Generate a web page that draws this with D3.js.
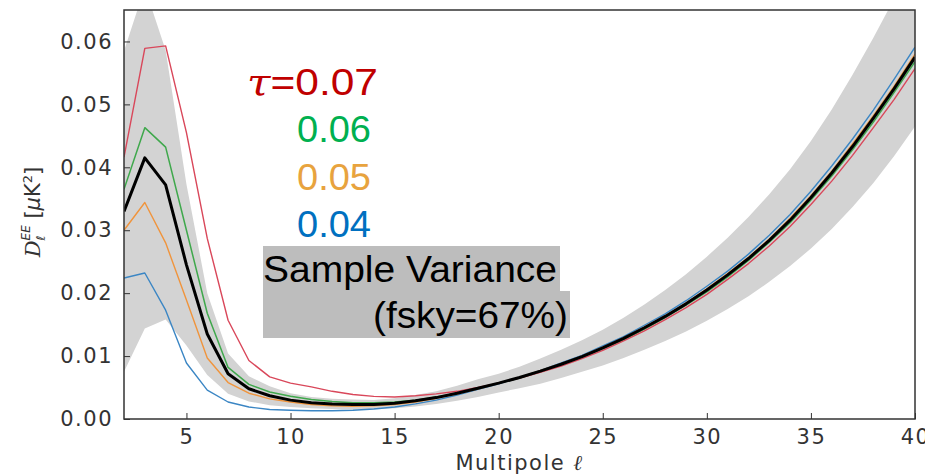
<!DOCTYPE html>
<html>
<head>
<meta charset="utf-8">
<script src="https://cdn.jsdelivr.net/npm/d3@7"></script>
<style>
  body { margin: 0; background: #fff; }
  svg { display: block; }
</style>
</head>
<body>
<div id="chart"></div>
<script>
// Multipoles sampled by the curves
const ells = [2, 3, 4, 5, 6, 7, 8, 9, 10, 11, 12, 13, 14, 15, 16, 17, 18, 19, 20,
  21, 22, 23, 24, 25, 26, 27, 28, 29, 30, 31, 32, 33, 34, 35, 36, 37, 38, 39, 40]

// D_l^EE [uK^2] for each tau
const tau07 = [0.0416, 0.0589, 0.0593, 0.0455, 0.0287, 0.0157, 0.0093, 0.0067, 0.0057, 0.0051,
  0.0044, 0.0039, 0.0036, 0.0035, 0.0037, 0.0040, 0.0044, 0.0050, 0.0057,
  0.0065, 0.0074, 0.0084, 0.0096, 0.0109, 0.0124, 0.0140, 0.0158, 0.0177, 0.0198,
  0.0222, 0.0247, 0.0275, 0.0306, 0.0341, 0.0378, 0.0419, 0.0463, 0.0508, 0.0557]
const tau06 = [0.0365, 0.0463, 0.0432, 0.0300, 0.0168, 0.0082, 0.0055, 0.0043, 0.0036, 0.0031,
  0.0028, 0.0026, 0.0026, 0.0027, 0.0030, 0.0035, 0.0041, 0.0049, 0.0057,
  0.0065, 0.0075, 0.0086, 0.0098, 0.0112, 0.0126, 0.0143, 0.0161, 0.0181, 0.0202,
  0.0226, 0.0252, 0.0281, 0.0312, 0.0348, 0.0386, 0.0428, 0.0472, 0.0519, 0.0568]
const tau05 = [0.0300, 0.0344, 0.0280, 0.0189, 0.0097, 0.0058, 0.0041, 0.0032, 0.0027, 0.0023,
  0.0021, 0.0020, 0.0021, 0.0023, 0.0027, 0.0033, 0.0040, 0.0048, 0.0057,
  0.0066, 0.0077, 0.0088, 0.0100, 0.0114, 0.0129, 0.0146, 0.0164, 0.0184, 0.0207,
  0.0231, 0.0257, 0.0286, 0.0319, 0.0355, 0.0394, 0.0437, 0.0482, 0.0529, 0.0580]
const tau04 = [0.0224, 0.0232, 0.0173, 0.0089, 0.0046, 0.0027, 0.0019, 0.0015, 0.0014, 0.0013,
  0.0013, 0.0014, 0.0016, 0.0019, 0.0024, 0.0030, 0.0038, 0.0047, 0.0056,
  0.0066, 0.0077, 0.0089, 0.0101, 0.0116, 0.0131, 0.0149, 0.0167, 0.0188, 0.0211,
  0.0235, 0.0262, 0.0292, 0.0325, 0.0362, 0.0402, 0.0445, 0.0491, 0.0540, 0.0591]
const fiducial = [0.0330, 0.0415, 0.0372, 0.0245, 0.0135, 0.0072, 0.0048, 0.0037, 0.0030, 0.0026,
  0.0024, 0.0023, 0.0023, 0.0025, 0.0029, 0.0034, 0.0041, 0.0049, 0.0057,
  0.0066, 0.0076, 0.0087, 0.0099, 0.0113, 0.0128, 0.0145, 0.0163, 0.0183, 0.0205,
  0.0229, 0.0255, 0.0284, 0.0316, 0.0352, 0.0391, 0.0433, 0.0478, 0.0525, 0.0575]

// Sample variance band (fsky = 67%)
const bandUpper = [0.0585, 0.0686, 0.0586, 0.0373, 0.0200, 0.0104, 0.0068, 0.0052, 0.0041, 0.0035,
  0.0032, 0.0031, 0.0030, 0.0033, 0.0038, 0.0044, 0.0053, 0.0063, 0.0072,
  0.0083, 0.0096, 0.0110, 0.0125, 0.0142, 0.0161, 0.0182, 0.0205, 0.0230, 0.0258,
  0.0288, 0.0321, 0.0357, 0.0397, 0.0442, 0.0492, 0.0547, 0.0606, 0.0668, 0.0735]
const bandLower = [0.0075, 0.0144, 0.0158, 0.0117, 0.0070, 0.0040, 0.0028, 0.0022, 0.0019, 0.0017,
  0.0016, 0.0015, 0.0016, 0.0017, 0.0020, 0.0024, 0.0029, 0.0035, 0.0042,
  0.0049, 0.0056, 0.0065, 0.0075, 0.0085, 0.0097, 0.0110, 0.0124, 0.0139, 0.0156,
  0.0175, 0.0195, 0.0218, 0.0243, 0.0271, 0.0302, 0.0337, 0.0375, 0.0418, 0.0465]

const xTicks = [5, 10, 15, 20, 25, 30, 35, 40]
const yTicks = [0, 0.01, 0.02, 0.03, 0.04, 0.05, 0.06]

const legendLabels = ["0.07", "0.06", "0.05", "0.04"]
const legendColors = ["#c00000", "#00b050", "#e8a33e", "#0070c0"]

const width = 925
const height = 474
const margin = { top: 10, right: 10, bottom: 55, left: 124 }

const svg = d3.select("#chart").append("svg")
  .attr("width", width)
  .attr("height", height)

const x = d3.scaleLinear().domain([2, 40]).range([margin.left, width - margin.right])
const y = d3.scaleLinear().domain([0, 0.065]).range([height - margin.bottom, margin.top])

svg.append("clipPath").attr("id", "plot-clip")
  .append("rect")
  .attr("x", margin.left).attr("y", margin.top)
  .attr("width", width - margin.left - margin.right)
  .attr("height", height - margin.top - margin.bottom)

const plot = svg.append("g").attr("clip-path", "url(#plot-clip)")

// Band
const area = d3.area()
  .x((d, i) => x(ells[i]))
  .y0((d, i) => y(bandLower[i]))
  .y1((d, i) => y(bandUpper[i]))

plot.append("path")
  .datum(ells)
  .attr("d", area)
  .attr("fill", "#d3d3d3")

// Curves
const line = d3.line()
  .x((d, i) => x(ells[i]))
  .y(d => y(d))

const series = [
  { values: tau04, color: "#3b86c4", width: 1.4 },
  { values: tau05, color: "#f0943c", width: 1.4 },
  { values: tau06, color: "#3fa84c", width: 1.5 },
  { values: tau07, color: "#d9475a", width: 1.4 },
  { values: fiducial, color: "#000000", width: 3 }
]

plot.selectAll(".curve")
  .data(series)
  .enter()
  .append("path")
  .attr("class", "curve")
  .attr("d", d => line(d.values))
  .attr("fill", "none")
  .attr("stroke", d => d.color)
  .attr("stroke-width", d => d.width)
  .attr("stroke-linejoin", "round")

// Axes (ticks pointing inward)
const tickFont = "DejaVu Sans, sans-serif"

const xAxis = svg.append("g")
  .attr("transform", `translate(0,${height - margin.bottom})`)
  .call(d3.axisBottom(x).tickValues(xTicks).tickSizeInner(-6).tickSizeOuter(0).tickPadding(10))
xAxis.select(".domain").remove()
xAxis.selectAll("line").attr("stroke", "#333")
xAxis.selectAll("text")
  .attr("font-family", tickFont)
  .attr("font-size", 21)
  .attr("letter-spacing", 1.5)
  .attr("fill", "#333")

const yAxis = svg.append("g")
  .attr("transform", `translate(${margin.left},0)`)
  .call(d3.axisLeft(y).tickValues(yTicks).tickFormat(d3.format(".2f")).tickSizeInner(-6).tickSizeOuter(0).tickPadding(11))
yAxis.select(".domain").remove()
yAxis.selectAll("line").attr("stroke", "#333")
yAxis.selectAll("text")
  .attr("font-family", tickFont)
  .attr("font-size", 21)
  .attr("letter-spacing", 1.5)
  .attr("fill", "#333")

// Frame
svg.append("rect")
  .attr("x", margin.left).attr("y", margin.top)
  .attr("width", width - margin.left - margin.right)
  .attr("height", height - margin.top - margin.bottom)
  .attr("fill", "none")
  .attr("stroke", "#333")
  .attr("stroke-width", 1.5)

// Axis labels
svg.append("text")
  .attr("x", (margin.left + width - margin.right) / 2)
  .attr("y", 470)
  .attr("text-anchor", "middle")
  .attr("font-family", tickFont)
  .attr("font-size", 21)
  .attr("letter-spacing", 1.5)
  .attr("fill", "#333")
  .text("Multipole ")
  .append("tspan")
  .attr("font-family", "DejaVu Serif, serif")
  .attr("font-style", "italic")
  .text("ℓ")

const yLabel = svg.append("text")
  .attr("transform", "translate(40,212) rotate(-90)")
  .attr("text-anchor", "middle")
  .attr("font-family", tickFont)
  .attr("font-size", 21)
  .attr("fill", "#333")
yLabel.append("tspan")
  .attr("font-family", "DejaVu Serif, serif")
  .attr("font-style", "italic")
  .text("D")
yLabel.append("tspan").attr("font-size", 12).attr("dy", 5).attr("font-style", "italic").text("ℓ")
yLabel.append("tspan").attr("font-size", 12).attr("dy", -15).attr("dx", -5).attr("font-style", "italic").text("EE")
yLabel.append("tspan").attr("dy", 10).text(" [")
yLabel.append("tspan").attr("font-style", "italic").text("μ")
yLabel.append("tspan").text("K")
yLabel.append("tspan").attr("font-size", 13).attr("dy", -8).text("2")
yLabel.append("tspan").attr("dy", 8).text("]")

// Legend
const legendFont = "Liberation Sans, Arial, sans-serif"
const legend = svg.append("g")

const tauText = legend.append("text")
  .attr("x", 247)
  .attr("y", 95)
  .attr("font-family", legendFont)
  .attr("font-size", 37)
  .attr("fill", legendColors[0])
  .attr("textLength", 131)
  .attr("lengthAdjust", "spacingAndGlyphs")
tauText.append("tspan").attr("font-family", "DejaVu Serif, serif").attr("font-style", "italic").text("τ")
tauText.append("tspan").text("=" + legendLabels[0])

legend.selectAll(".tau-label")
  .data(legendLabels.slice(1))
  .enter()
  .append("text")
  .attr("class", "tau-label")
  .attr("x", 297)
  .attr("y", (d, i) => 142 + i * 47.5)
  .attr("font-family", legendFont)
  .attr("font-size", 37)
  .attr("fill", (d, i) => legendColors[i + 1])
  .attr("textLength", 74)
  .attr("lengthAdjust", "spacingAndGlyphs")
  .text(d => d)

// Sample variance note
legend.append("rect")
  .attr("x", 263).attr("y", 246).attr("width", 297).attr("height", 45)
  .attr("fill", "#bdbdbd")
legend.append("rect")
  .attr("x", 263).attr("y", 291).attr("width", 307).attr("height", 47)
  .attr("fill", "#bdbdbd")
legend.append("text")
  .attr("x", 263)
  .attr("y", 282)
  .attr("font-family", legendFont)
  .attr("font-size", 36)
  .attr("fill", "#000")
  .attr("textLength", 294)
  .attr("lengthAdjust", "spacingAndGlyphs")
  .text("Sample Variance")
legend.append("text")
  .attr("x", 373)
  .attr("y", 328)
  .attr("font-family", legendFont)
  .attr("font-size", 36)
  .attr("fill", "#000")
  .attr("textLength", 195)
  .attr("lengthAdjust", "spacingAndGlyphs")
  .text("(fsky=67%)")
</script>
</body>
</html>
